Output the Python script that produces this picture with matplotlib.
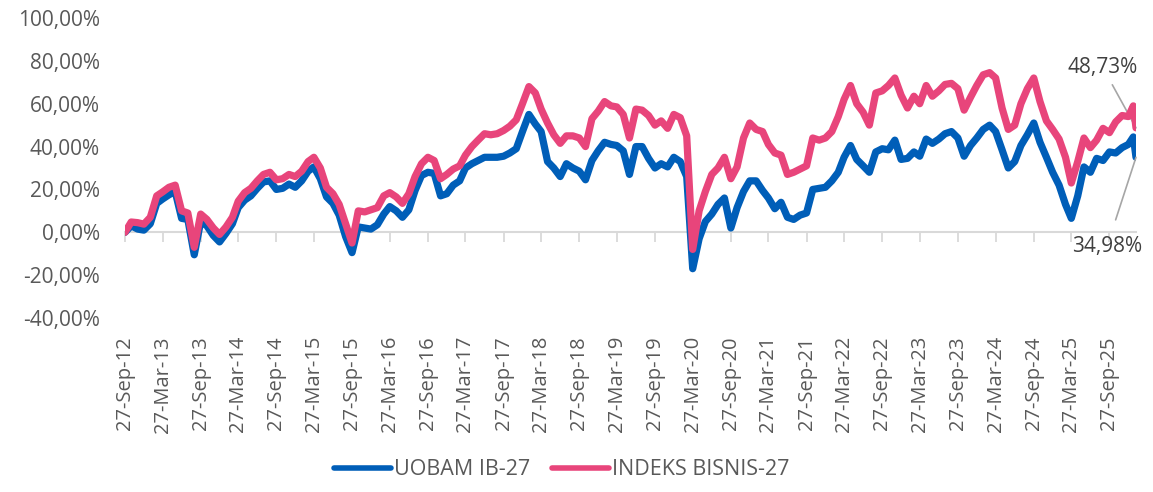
import matplotlib
matplotlib.use("Agg")
import matplotlib.pyplot as plt
import matplotlib.dates as mdates
import pandas as pd

plt.rcParams['font.family'] = ['Open Sans', 'DejaVu Sans']

# Data (cumulative return in %, roughly monthly)
dates = list(pd.date_range('2012-09-01', periods=160, freq='MS') + pd.Timedelta(days=26))
dates += [pd.Timestamp('2026-01-20'), pd.Timestamp('2026-02-02')]

indeks = [
    0.0, 4.8, 4.5, 3.8, 7.0, 17.0, 18.8, 21.0, 22.0, 10.0,
    9.0, -7.0, 8.5, 6.0, 2.0, -1.0, 2.5, 7.0, 14.5, 18.5,
    20.5, 24.0, 27.0, 28.0, 24.5, 25.0, 27.0, 26.0, 28.5, 33.0,
    35.0, 30.0, 21.0, 18.0, 13.0, 4.0, -5.0, 10.0, 9.5, 10.5,
    11.5, 17.0, 18.5, 16.5, 13.5, 18.0, 26.0, 32.0, 35.0, 33.5,
    25.0, 27.0, 29.5, 31.0, 36.0, 40.0, 43.0, 46.0, 45.5, 46.0,
    47.5, 49.5, 52.5, 60.0, 68.0, 65.0, 57.5, 51.0, 45.5, 41.5,
    45.0, 45.0, 44.0, 40.0, 53.0, 56.5, 61.0, 59.0, 58.5, 55.0,
    44.0, 57.5, 57.0, 54.5, 50.0, 52.0, 48.5, 55.0, 53.5, 45.0,
    -8.0, 10.0, 19.0, 27.0, 30.0, 35.0, 25.0, 30.5, 44.0, 51.0,
    48.0, 47.0, 41.0, 37.0, 36.0, 27.0, 28.0, 29.5, 31.0, 44.0,
    43.0, 44.0, 47.0, 54.0, 62.0, 68.5, 60.0, 56.0, 50.0, 65.0,
    66.0, 68.5, 72.0, 64.0, 58.0, 63.5, 60.0, 68.5, 63.5, 66.0,
    69.0, 69.5, 67.0, 57.0, 63.0, 68.5, 73.5, 74.5, 72.0, 58.0,
    48.0, 50.0, 60.0, 67.0, 72.0, 61.0, 52.0, 48.0, 43.5, 35.0,
    23.0, 33.0, 44.0, 39.5, 43.0, 48.5, 46.5, 51.5, 54.5, 54.0,
    59.0, 48.73,
]

uobam = [
    0.0, 3.0, 1.5, 1.0, 4.0, 13.5, 15.5, 17.5, 19.0, 6.5,
    6.0, -10.5, 5.0, 3.0, -1.5, -4.5, -0.5, 4.0, 11.5, 15.0,
    17.0, 20.5, 23.5, 24.0, 20.0, 20.5, 22.5, 21.0, 24.0, 28.5,
    30.5, 25.0, 16.5, 13.5, 8.0, -2.0, -9.5, 2.5, 2.0, 1.5,
    3.5, 8.5, 12.0, 10.0, 7.0, 10.5, 19.5, 26.5, 28.0, 27.5,
    17.0, 18.0, 22.0, 24.0, 30.0, 32.0, 33.5, 35.0, 35.0, 35.0,
    35.5, 37.0, 39.0, 47.0, 55.0, 50.5, 47.0, 33.0, 30.0, 26.0,
    32.0, 30.0, 28.5, 24.5, 33.5, 38.0, 42.0, 41.0, 40.5, 38.0,
    27.0, 40.0, 40.0, 34.5, 30.0, 32.0, 30.5, 35.0, 33.0, 26.0,
    -17.0, -3.0, 5.0, 8.5, 13.0, 16.0, 2.0, 11.5, 19.0, 24.0,
    24.0, 19.5, 16.0, 11.0, 14.0, 7.0, 6.0, 8.0, 9.0, 20.0,
    20.5, 21.0, 24.0, 28.0, 35.0, 40.5, 34.0, 31.0, 28.0, 37.5,
    39.0, 38.5, 43.0, 34.0, 34.5, 37.5, 35.5, 43.5, 41.5, 43.5,
    46.0, 47.0, 44.0, 35.5, 40.5, 44.0, 48.0, 50.0, 47.0, 38.5,
    30.0, 33.0, 40.5, 45.5, 51.0, 42.0, 35.0, 28.0, 22.0, 13.0,
    6.5, 17.0, 30.5, 28.0, 34.5, 33.5, 37.5, 37.0, 39.5, 41.0,
    44.5, 34.98,
]

tick_labels = [
    '27-Sep-12', '27-Mar-13', '27-Sep-13', '27-Mar-14', '27-Sep-14', '27-Mar-15',
    '27-Sep-15', '27-Mar-16', '27-Sep-16', '27-Mar-17', '27-Sep-17', '27-Mar-18',
    '27-Sep-18', '27-Mar-19', '27-Sep-19', '27-Mar-20', '27-Sep-20', '27-Mar-21',
    '27-Sep-21', '27-Mar-22', '27-Sep-22', '27-Mar-23', '27-Sep-23', '27-Mar-24',
    '27-Sep-24', '27-Mar-25', '27-Sep-25',
]

BLUE = '#005EB8'
PINK = '#E8457B'
GREY = '#595959'

x = mdates.date2num(dates)
tick_x = mdates.date2num(pd.to_datetime(tick_labels, format='%d-%b-%y'))

fig = plt.figure(figsize=(11.53, 4.92), dpi=100)
ax = fig.add_axes([125 / 1153, 1 - 318 / 492, (1136 - 125) / 1153, 300 / 492])

ax.plot(x, uobam, color=BLUE, lw=5.2, solid_joinstyle='round', solid_capstyle='round',
        label='UOBAM IB-27', zorder=3)
ax.plot(x, indeks, color=PINK, lw=5.2, solid_joinstyle='round', solid_capstyle='round',
        label='INDEKS BISNIS-27', zorder=4)

ax.set_xlim(x[0], x[-1])
ax.set_ylim(-40, 100)
ax.set_yticks(range(-40, 101, 20))
ax.yaxis.set_major_formatter(lambda v, p: f"{v:.2f}%".replace('.', ','))
ax.tick_params(axis='y', length=0, pad=18, labelsize=15, labelcolor=GREY)

for s in ['top', 'right', 'left']:
    ax.spines[s].set_visible(False)
ax.spines['bottom'].set_position(('data', 0))
ax.spines['bottom'].set_color('#D9D9D9')
ax.spines['bottom'].set_linewidth(1.5)
ax.spines['bottom'].set_zorder(1)
ax.set_xticks(tick_x)
ax.tick_params(axis='x', direction='out', length=7, width=1.3, color='#D9D9D9',
               labelbottom=False)

# date labels sit at the bottom of the plot area
sec = ax.secondary_xaxis(0)
sec.set_xticks(tick_x, labels=tick_labels)
sec.tick_params(length=0, pad=13, labelsize=14.5, labelcolor=GREY, labelrotation=90)
sec.spines['bottom'].set_visible(False)

# end-value callouts
ax.annotate('48,73%', xy=(x[-1], indeks[-1]), xytext=(-33, 60), textcoords='offset pixels',
            ha='center', va='center', fontsize=15, color='#404040', annotation_clip=False,
            arrowprops=dict(arrowstyle='-', color='#A6A6A6', lw=1.2, shrinkA=3, shrinkB=0))
ax.annotate('34,98%', xy=(x[-1], uobam[-1]), xytext=(-29, -89), textcoords='offset pixels',
            ha='center', va='center', fontsize=15, color='#404040', annotation_clip=False,
            arrowprops=dict(arrowstyle='-', color='#A6A6A6', lw=1.2, shrinkA=10, shrinkB=0))

leg = fig.legend(loc='center', bbox_to_anchor=(0.487, 0.045), ncol=2, frameon=False,
                 fontsize=15.5, handlelength=2.65, handletextpad=0.15, columnspacing=1.0,
                 labelcolor=GREY)
for line in leg.get_lines():
    line.set_linewidth(4)

fig.savefig('out.png', dpi=100)
